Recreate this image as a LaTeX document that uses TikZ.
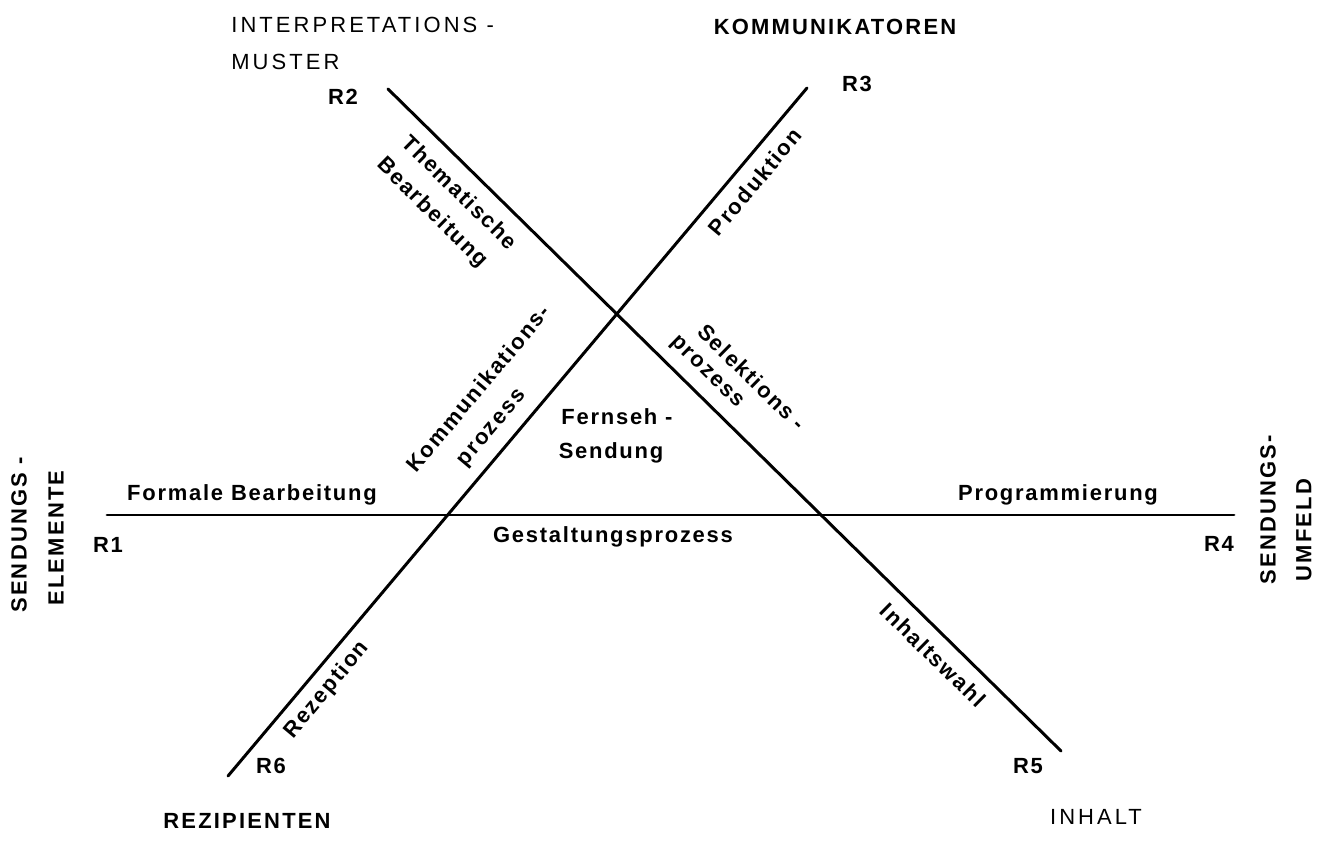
\documentclass[tikz,border=0pt]{standalone}
\usepackage{fontspec}
\setmainfont{Liberation Sans}[LetterSpace=8]
\newfontfamily\capsfont{Liberation Sans}[LetterSpace=14]
\newfontfamily\boldcapsfont{Liberation Sans Bold}[LetterSpace=10]
\newfontfamily\labelfont{Liberation Sans Bold}[LetterSpace=8]
\begin{document}
\begin{tikzpicture}[x=0.02cm,y=-0.02cm,
  axis/.style={line width=1.7pt,line cap=round},
  lbl/.style={inner sep=0pt,font=\fontsize{12.5}{15}\selectfont\labelfont},
  caplbl/.style={inner sep=0pt,font=\fontsize{12.5}{15}\selectfont\capsfont},
  boldcap/.style={inner sep=0pt,font=\fontsize{12.5}{15}\selectfont\boldcapsfont},
  rlbl/.style={inner sep=0pt,font=\fontsize{12.5}{15}\selectfont\labelfont},
  dlbl/.style={inner sep=0pt,font=\fontsize{12.5}{15}\selectfont\labelfont,rotate=-44.5},
  ulbl/.style={inner sep=0pt,font=\fontsize{12.5}{15}\selectfont\labelfont,rotate=50}]
\useasboundingbox (0,0) rectangle (1330,844);
% end points
\coordinate (p1) at (107,515);
\coordinate (p4) at (1234,515);
\coordinate (p2) at (388,89);
\coordinate (p5) at (1061,751);
\coordinate (p3) at (807,88);
\coordinate (p6) at (228,776);
\draw[axis] (p1) -- (p4);
\draw[axis] (p2) -- (p5);
\draw[axis] (p3) -- (p6);
% corner labels
\node[caplbl,anchor=west] (interp) at (231,25) {INTERPRETATIONS -};
\node[caplbl,anchor=west] (muster) at (231,62) {MUSTER};
\node[boldcap] (komm) at (835,27) {KOMMUNIKATOREN};
\node[rlbl] (r2) at (343,97) {R2};
\node[rlbl] (r3) at (857,84) {R3};
\node[rlbl] (r1) at (108,545) {R1};
\node[rlbl] (r4) at (1219,544) {R4};
\node[rlbl] (r6) at (271,766) {R6};
\node[rlbl] (r5) at (1028,766) {R5};
\node[boldcap,rotate=90] (send1) at (19,535) {SENDUNGS -};
\node[boldcap,rotate=90] (elem) at (56,538) {ELEMENTE};
\node[boldcap,rotate=90] (send2) at (1268,510) {SENDUNGS-};
\node[boldcap,rotate=90] (umfeld) at (1304,530) {UMFELD};
\node[boldcap] (rezip) at (247,821) {REZIPIENTEN};
\node[caplbl] (inhalt) at (1096,817) {INHALT};
% process labels
\node[lbl] (formal) at (252,495) {Formale Bearbeitung};
\node[lbl] (progr) at (1058,495) {Programmierung};
\node[lbl] (gest) at (613,537) {Gestaltungsprozess};
\node[lbl] (fern) at (617,417) {Fernseh -};
\node[lbl] (sendung) at (611,453) {Sendung};
\node[dlbl] (them) at (460,192) {Thematische};
\node[dlbl] (bearb) at (432,213) {Bearbeitung};
\node[dlbl] (selek) at (752,377) {Selektions -};
\node[dlbl] (proz2) at (706,373) {prozess};
\node[dlbl] (inhw) at (933,655) {Inhaltswahl};
\node[ulbl] (prod) at (755,182) {Produktion};
\node[ulbl] (kommp) at (478,388) {Kommunikations-};
\node[ulbl] (proz1) at (493,429) {prozess};
\node[ulbl] (rez) at (327,690) {Rezeption};
\end{tikzpicture}
\end{document}
